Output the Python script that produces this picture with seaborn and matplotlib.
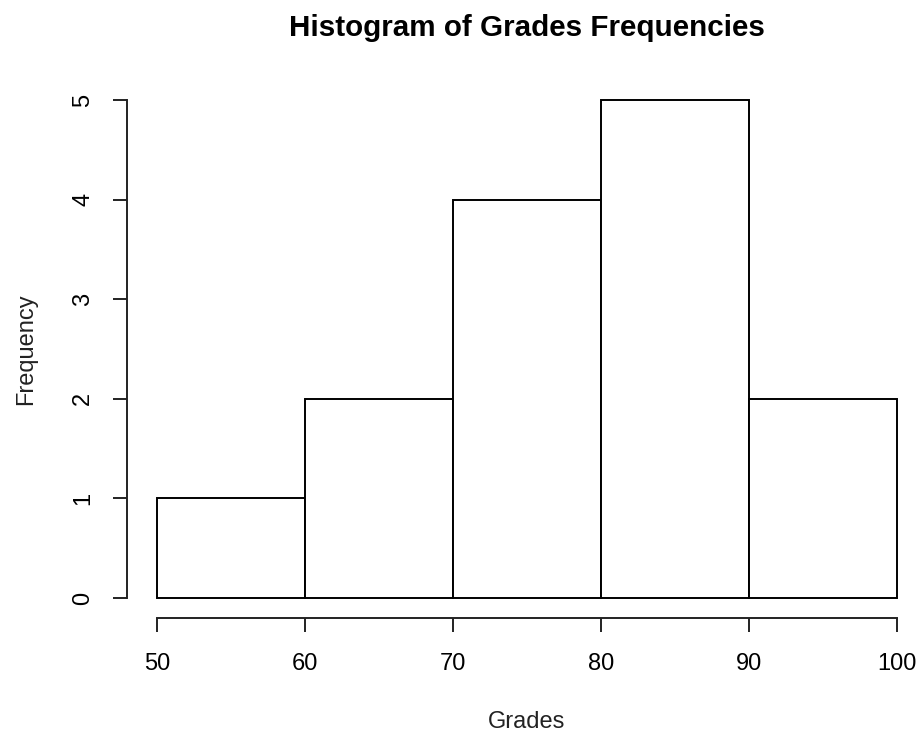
import matplotlib
matplotlib.use("Agg")
import matplotlib.pyplot as plt
import seaborn as sns
import numpy as np

# Data
bin_edges = [50, 60, 70, 80, 90, 100]
counts = [1, 2, 4, 5, 2]
bin_centers = [55, 65, 75, 85, 95]
x_ticks = [50, 60, 70, 80, 90, 100]
y_ticks = [0, 1, 2, 3, 4, 5]

sns.set_style("ticks")
plt.rcParams['font.family'] = ['Liberation Sans', 'DejaVu Sans']
plt.rcParams['text.color'] = 'black'
plt.rcParams['axes.labelcolor'] = 'black'

fig = plt.figure(figsize=(9.2, 7.34), dpi=100)
ax = fig.add_axes([127.4 / 920, (734 - 617.9) / 734, 799.2 / 920, 537.8 / 734])

sns.histplot(x=bin_centers, weights=counts, bins=bin_edges, ax=ax,
             color="white", edgecolor="black", linewidth=1.4, alpha=1)

ax.set_xlim(48, 102)
ax.set_ylim(-0.2, 5.2)
ax.set_xticks(x_ticks)
ax.set_yticks(y_ticks)
ax.set_xticklabels([str(v) for v in x_ticks], fontsize=17)
ax.set_yticklabels([str(v) for v in y_ticks], fontsize=17, rotation=90, va='center')

for s in ["top", "right"]:
    ax.spines[s].set_visible(False)
ax.spines["left"].set_bounds(0, 5)
ax.spines["bottom"].set_bounds(50, 100)
for s in ["left", "bottom"]:
    ax.spines[s].set_linewidth(1.4)
    ax.spines[s].set_color("#222222")
ax.tick_params(axis='both', direction='out', length=10, width=1.4, color="#222222",
               labelcolor="black")
ax.tick_params(axis='x', pad=15)
ax.tick_params(axis='y', pad=14)

ax.set_xlabel("Grades", fontsize=17, color="#222222")
ax.set_ylabel("Frequency", fontsize=17, color="#222222")
ax.xaxis.set_label_coords((527 - 127.4) / 799.2, (617.9 - 722) / 537.8)
ax.yaxis.set_label_coords((26 - 127.4) / 799.2, 0.5)
for lab in [ax.xaxis.label, ax.yaxis.label]:
    lab.set_verticalalignment('center')

ax.set_title("Histogram of Grades Frequencies", fontsize=21.3, fontweight='bold',
             color='black', y=(617.9 - 28) / 537.8, va='center', pad=0)

fig.savefig("out.png", dpi=100)
